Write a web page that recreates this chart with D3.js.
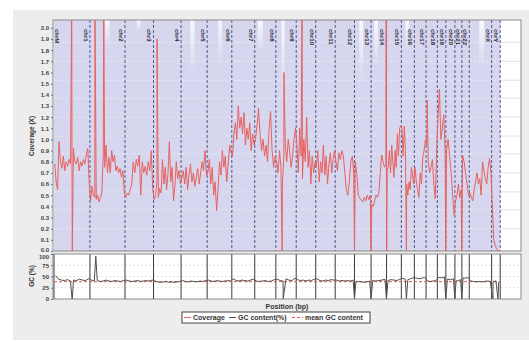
<!DOCTYPE html>
<html>
<head>
<meta charset="utf-8">
<script src="https://cdn.jsdelivr.net/npm/d3@7/dist/d3.min.js"></script>
<style>
  body { margin: 0; background: #fff; }
  text { font-family: "Liberation Sans", Arial, sans-serif; }
</style>
</head>
<body>
<svg id="chart" width="529" height="342"></svg>
<script>
// chromosome names and lengths (Mb, hg19)
const chromNames = ['chr1','chr2','chr3','chr4','chr5','chr6','chr7','chr8','chr9','chr10','chr11','chr12',
  'chr13','chr14','chr15','chr16','chr17','chr18','chr19','chr20','chr21','chr22','chrX','chrY'];
const chromLengths = [249.3, 243.2, 198.0, 191.2, 180.9, 171.1, 159.1, 146.4, 141.2, 135.5, 135.0, 133.9,
  115.2, 107.3, 102.5, 90.4, 81.2, 78.1, 59.1, 63.0, 48.1, 51.3, 155.3, 59.4];

// coverage (X), evenly spaced bins inside each chromosome
const coverage = [
  [0.78,0.62,0.55,0.98,0.8,0.74,0.85,0.72,0.8,0.76,0.82,0.78,0.86,0.92,0.8,0.78,0.84,0.72,0.8,0.76,0.82,0.78,0.86,0.92,0.6],
  [0.45,0.58,0.5,0.48,0.46,0.5,0.44,0.48,0.52,0.85,0.75,0.95,0.7,0.84,0.7,0.9,0.8,0.86,0.72,0.76,0.7,0.74,0.66,0.72,0.52],
  [0.48,0.52,0.5,0.55,0.6,0.8,0.7,0.82,0.76,0.86,0.5,0.8,0.7,0.76,0.68,0.8,0.72,0.9,0.55],
  [0.46,0.5,0.62,0.48,0.56,0.52,0.82,0.6,0.75,0.55,0.7,0.98,0.62,0.75,0.45,0.58,0.8,0.65,0.72,0.6],
  [0.65,0.72,0.6,0.75,0.55,0.68,0.78,0.62,0.7,0.58,0.66,0.74,0.6,0.7,0.8,0.72,0.9,0.68],
  [0.7,0.82,0.6,0.75,0.5,0.62,0.36,0.55,0.8,0.68,0.9,0.75,0.85,0.62,0.78,0.95,0.88],
  [0.85,1.05,1.15,1.0,1.3,1.1,1.2,1.05,1.24,0.95,1.1,1.0,1.15,0.9,1.05,0.95],
  [1.0,1.12,1.28,1.05,0.9,1.0,0.85,0.95,0.8,1.1,1.25,0.9,0.75,0.85],
  [0.8,0.7,0.9,0.75,0.6,0.85,0.95,0.8,1.0,0.9,0.75,0.85,1.0,1.1],
  [0.95,0.7,1.1,0.85,0.65,1.0,0.8,1.2,0.75,0.9,0.6,0.85,0.7,0.8],
  [0.75,0.9,0.62,0.8,0.7,0.95,0.68,0.85,0.6,0.78,0.88,0.7,0.82,0.9],
  [0.8,0.72,0.88,0.82,0.9,0.85,0.7,0.55,0.5,0.62,0.8,0.85,0.7],
  [0.8,0.7,0.5,0.47,0.46,0.44,0.48,0.45,0.5,0.46,0.5],
  [0.42,0.4,0.45,0.5,0.48,0.52,0.7,0.86,0.8,0.75,0.78],
  [0.72,0.75,0.9,0.7,0.95,0.8,0.66,0.9,0.75,1.05,0.85,1.1,1.12],
  [1.1,0.85,1.12,0.9,0.6,0.5,0.62,0.55,0.75,0.68,0.6],
  [0.75,0.62,0.55,0.48,0.7,0.6,0.85,0.9,1.0],
  [0.95,0.8,0.7,0.75,0.82,0.6,0.47,0.9],
  [1.2,1.45,1.0,1.1,1.22,0.9],
  [0.9,1.0,0.85,0.7,0.5,0.32],
  [0.45,0.5,0.6,0.48,0.55],
  [0.86,0.8,0.7,0.6,0.5],
  [0.52,0.48,0.45,0.55,0.62,0.7,0.6,0.65,0.5,0.8,0.72,0.65,0.6,0.75,0.83,0.7],
  [0.4,0.1,0.05,0.02,0.0,0.0]
];
// sharp coverage excursions [position Mb, value]
const coverageSpikes = [[123,2.3],[127,0],[284,2.3],[345,2.3],[715,1.9],[1583,0],[1595,1.6],[1721,2.3],
  [2085,0],[2200,0],[2305,2.3],[2308,0],[2445,0],[2590,1.35],[2718,0],[2829,0]];

// GC content (%), evenly spaced bins inside each chromosome
const gcContent = [
  [52,44,42,41,43,40,42,41,44,42,41,45],
  [42,40,41,39,40,42,40,39,41,40,39,41],
  [42,40,39,40,41,39,40,41,40,42],
  [40,38,37,38,39,37,38,37,38,39],
  [41,39,38,40,39,38,40,39,41],
  [42,40,39,41,40,39,40,41,40],
  [45,41,40,42,41,40,42,44],
  [40,39,40,41,39,40,43],
  [44,41,40,45,42,41,46],
  [43,41,42,40,42,41,44],
  [45,41,40,42,41,43,42],
  [42,40,41,40,41,40,42],
  [38,39,38,37,38,40],
  [41,40,41,42,44],
  [41,43,42,41,44],
  [46,44,43,45,47],
  [47,45,46,48],
  [40,39,40,41],
  [48,47,49],
  [44,43,45],
  [40,41,43],
  [47,46,48],
  [40,39,38,39,38,39,40,39],
  [39,40,38]
];
const gcSpikes = [[125,0],[127,0],[290,95],[1590,0],[2085,0],[2200,0],[2306,0],[2445,0],[2718,0],
  [2781,0],[2829,0],[3045,0],[3080,0]];
const meanGC = 38.5;

// white streaks in the shaded band [start Mb, end Mb, value where shading resumes]
const fillGaps = [[355,385,1.85],[575,600,1.98],[945,975,1.62],[1140,1165,1.71],[1415,1450,1.8],
  [1578,1600,1.4],[2118,2145,1.53],[2222,2248,1.67],[2438,2462,1.8],[2950,2985,1.67]];

const covTicks = d3.range(0, 21).map(d => d / 10);
const gcTicks = [0, 25, 50, 75, 100];
const gridTicks = [0.2, 0.37, 0.53, 0.7, 0.87, 1.03, 1.2, 1.37, 1.53, 1.7, 1.87];

const svg = d3.select('#chart');
const W = 529, H = 342;
const plotLeft = 53, plotRight = 521, plotTop = 20, mainBottom = 251, gcTop = 254, gcBottom = 299;

svg.append('rect').attr('x', 13).attr('y', 10).attr('width', W - 13).attr('height', 330).attr('fill', '#ededed');

const starts = [];
let acc = 0;
chromLengths.forEach(l => { starts.push(acc); acc += l; });
const genomeEnd = acc;

const x = d3.scaleLinear().domain([0, 3240]).range([54, plotRight]);
const yCov = d3.scaleLinear().domain([0, 2.07]).range([mainBottom, plotTop]);
const yGC = d3.scaleLinear().domain([0, 100]).range([gcBottom, gcTop]);

function buildSeries(arrays, spikes) {
  const pts = [];
  arrays.forEach((vals, c) => {
    const n = vals.length, len = chromLengths[c];
    vals.forEach((v, j) => pts.push([starts[c] + (j + 0.5) * len / n, v]));
  });
  spikes.forEach(s => pts.push(s));
  pts.sort((a, b) => a[0] - b[0]);
  return pts;
}

const defs = svg.append('defs');
defs.append('clipPath').attr('id', 'clipMain').append('rect')
  .attr('x', plotLeft).attr('y', plotTop).attr('width', plotRight - plotLeft).attr('height', mainBottom - plotTop);
defs.append('clipPath').attr('id', 'clipGC').append('rect')
  .attr('x', plotLeft).attr('y', gcTop).attr('width', plotRight - plotLeft).attr('height', gcBottom - gcTop);
const grad = defs.append('linearGradient').attr('id', 'gapGrad').attr('x1', 0).attr('y1', 0).attr('x2', 0).attr('y2', 1);
grad.append('stop').attr('offset', '0%').attr('stop-color', '#fff').attr('stop-opacity', 0.85);
grad.append('stop').attr('offset', '100%').attr('stop-color', '#fff').attr('stop-opacity', 0.05);

// ---- main coverage panel
svg.append('rect').attr('x', plotLeft).attr('y', plotTop).attr('width', plotRight - plotLeft).attr('height', mainBottom - plotTop).attr('fill', '#fff');

const main = svg.append('g').attr('clip-path', 'url(#clipMain)');

main.selectAll('.grid').data(gridTicks).join('line')
  .attr('x1', plotLeft).attr('x2', plotRight)
  .attr('y1', d => yCov(d)).attr('y2', d => yCov(d))
  .attr('stroke', '#e2e2e2').attr('stroke-width', 1);

main.append('rect').attr('x', x(0)).attr('y', plotTop)
  .attr('width', x(genomeEnd) - x(0)).attr('height', mainBottom - plotTop)
  .attr('fill', '#d6d6ef');

main.selectAll('.gridw').data(gridTicks).join('line')
  .attr('x1', x(0)).attr('x2', x(genomeEnd))
  .attr('y1', d => yCov(d)).attr('y2', d => yCov(d))
  .attr('stroke', '#fff').attr('stroke-opacity', 0.45).attr('stroke-dasharray', '2,2');

main.selectAll('.gap').data(fillGaps).join('rect')
  .attr('x', d => x(d[0])).attr('width', d => x(d[1]) - x(d[0]))
  .attr('y', plotTop).attr('height', d => yCov(d[2]) - plotTop)
  .attr('fill', 'url(#gapGrad)');

const ends = starts.map((s, i) => s + chromLengths[i]);

main.selectAll('.chrLine').data(ends).join('line')
  .attr('x1', d => x(d)).attr('x2', d => x(d))
  .attr('y1', plotTop).attr('y2', mainBottom)
  .attr('stroke', '#55558a').attr('stroke-width', 1).attr('stroke-dasharray', '3,2');

const covLine = d3.line().x(d => x(d[0])).y(d => yCov(d[1]));
main.append('path').datum(buildSeries(coverage, coverageSpikes))
  .attr('d', covLine).attr('fill', 'none').attr('stroke', '#e8625f').attr('stroke-width', 1);

// chromosome labels at the end of each chromosome
const labels = [{ name: 'chrM', pos: 0 }].concat(chromNames.map((n, i) => ({ name: n, pos: ends[i] })));
svg.selectAll('.chrLabel').data(labels).join('text')
  .attr('transform', d => 'translate(' + Math.max(x(d.pos) - 4, 57) + ',' + 29 + ') rotate(90)')
  .attr('dy', '0.35em')
  .attr('font-size', '6px').attr('font-weight', 'bold').attr('fill', '#2a2a2a')
  .text(d => d.name);

svg.append('rect').attr('x', plotLeft).attr('y', plotTop).attr('width', plotRight - plotLeft).attr('height', mainBottom - plotTop)
  .attr('fill', 'none').attr('stroke', '#8a8a8a');

svg.append('g').attr('transform', 'translate(' + plotLeft + ',0)')
  .call(d3.axisLeft(yCov).tickValues(covTicks).tickFormat(d3.format('.1f')).tickSize(2))
  .call(g => g.select('.domain').remove())
  .call(g => g.selectAll('.tick line').attr('stroke', '#777'))
  .call(g => g.selectAll('.tick text').attr('font-size', '6px').attr('font-weight', 'bold')
    .attr('fill', '#444').attr('font-family', '"Liberation Sans", Arial, sans-serif').attr('x', -4))
  .call(g => g.filter(() => true).selectAll('.tick').filter(d => d === 0).select('text').attr('dy', '0.05em'));

svg.append('text')
  .attr('transform', 'translate(' + 34 + ',' + 136 + ') rotate(-90)')
  .attr('text-anchor', 'middle').attr('font-size', '6.5px').attr('font-weight', 'bold').attr('fill', '#333')
  .text('Coverage (X)');

// ---- GC panel
svg.append('rect').attr('x', plotLeft).attr('y', gcTop).attr('width', plotRight - plotLeft).attr('height', gcBottom - gcTop).attr('fill', '#fff');
const gc = svg.append('g').attr('clip-path', 'url(#clipGC)');

gc.selectAll('.gcGrid').data([25, 50, 75]).join('line')
  .attr('x1', plotLeft).attr('x2', plotRight)
  .attr('y1', d => yGC(d)).attr('y2', d => yGC(d))
  .attr('stroke', '#ecdcd6').attr('stroke-width', 1).attr('stroke-dasharray', '2,2');

gc.selectAll('.gcChr').data([0].concat(ends)).join('line')
  .attr('x1', d => x(d)).attr('x2', d => x(d))
  .attr('y1', gcTop).attr('y2', gcBottom)
  .attr('stroke', '#3a3a3a').attr('stroke-width', 1);

gc.append('line')
  .attr('x1', x(0)).attr('x2', x(genomeEnd))
  .attr('y1', yGC(meanGC)).attr('y2', yGC(meanGC))
  .attr('stroke', '#e05a55').attr('stroke-width', 1).attr('stroke-dasharray', '3,2');

const gcLine = d3.line().x(d => x(d[0])).y(d => yGC(d[1]));
gc.append('path').datum(buildSeries(gcContent, gcSpikes))
  .attr('d', gcLine).attr('fill', 'none').attr('stroke', '#505050').attr('stroke-width', 1);

svg.append('rect').attr('x', plotLeft).attr('y', gcTop).attr('width', plotRight - plotLeft).attr('height', gcBottom - gcTop)
  .attr('fill', 'none').attr('stroke', '#8a8a8a');

svg.append('g').attr('transform', 'translate(' + plotLeft + ',0)')
  .call(d3.axisLeft(yGC).tickValues(gcTicks).tickSize(2))
  .call(g => g.select('.domain').remove())
  .call(g => g.selectAll('.tick line').attr('stroke', '#777'))
  .call(g => g.selectAll('.tick text').attr('font-size', '6px').attr('font-weight', 'bold')
    .attr('fill', '#444').attr('font-family', '"Liberation Sans", Arial, sans-serif').attr('x', -4))
  .call(g => g.selectAll('.tick').filter(d => d === 100).select('text').attr('dy', '0.75em'));

svg.append('text')
  .attr('transform', 'translate(' + 34 + ',' + 276 + ') rotate(-90)')
  .attr('text-anchor', 'middle').attr('font-size', '6.5px').attr('font-weight', 'bold').attr('fill', '#333')
  .text('GC (%)');

svg.append('text').attr('x', 287).attr('y', 309)
  .attr('text-anchor', 'middle').attr('font-size', '7px').attr('font-weight', 'bold').attr('fill', '#333')
  .text('Position (bp)');

// ---- legend
const legendItems = [
  { label: 'Coverage', color: '#e8625f', dash: null, x: 184, tx: 193 },
  { label: 'GC content(%)', color: '#505050', dash: null, x: 229, tx: 238 },
  { label: 'mean GC content', color: '#e05a55', dash: '3,2', x: 292, tx: 305 }
];
svg.append('rect').attr('x', 182).attr('y', 312).attr('width', 188).attr('height', 11)
  .attr('fill', '#fff').attr('stroke', '#444').attr('stroke-width', 1);
const leg = svg.selectAll('.leg').data(legendItems).join('g');
leg.append('line')
  .attr('x1', d => d.x).attr('x2', d => d.tx - 2)
  .attr('y1', 317.5).attr('y2', 317.5)
  .attr('stroke', d => d.color).attr('stroke-width', 1)
  .attr('stroke-dasharray', d => d.dash);
leg.append('text')
  .attr('x', d => d.tx).attr('y', 320)
  .attr('font-size', '7px').attr('font-weight', 'bold').attr('fill', '#333')
  .text(d => d.label);
</script>
</body>
</html>
